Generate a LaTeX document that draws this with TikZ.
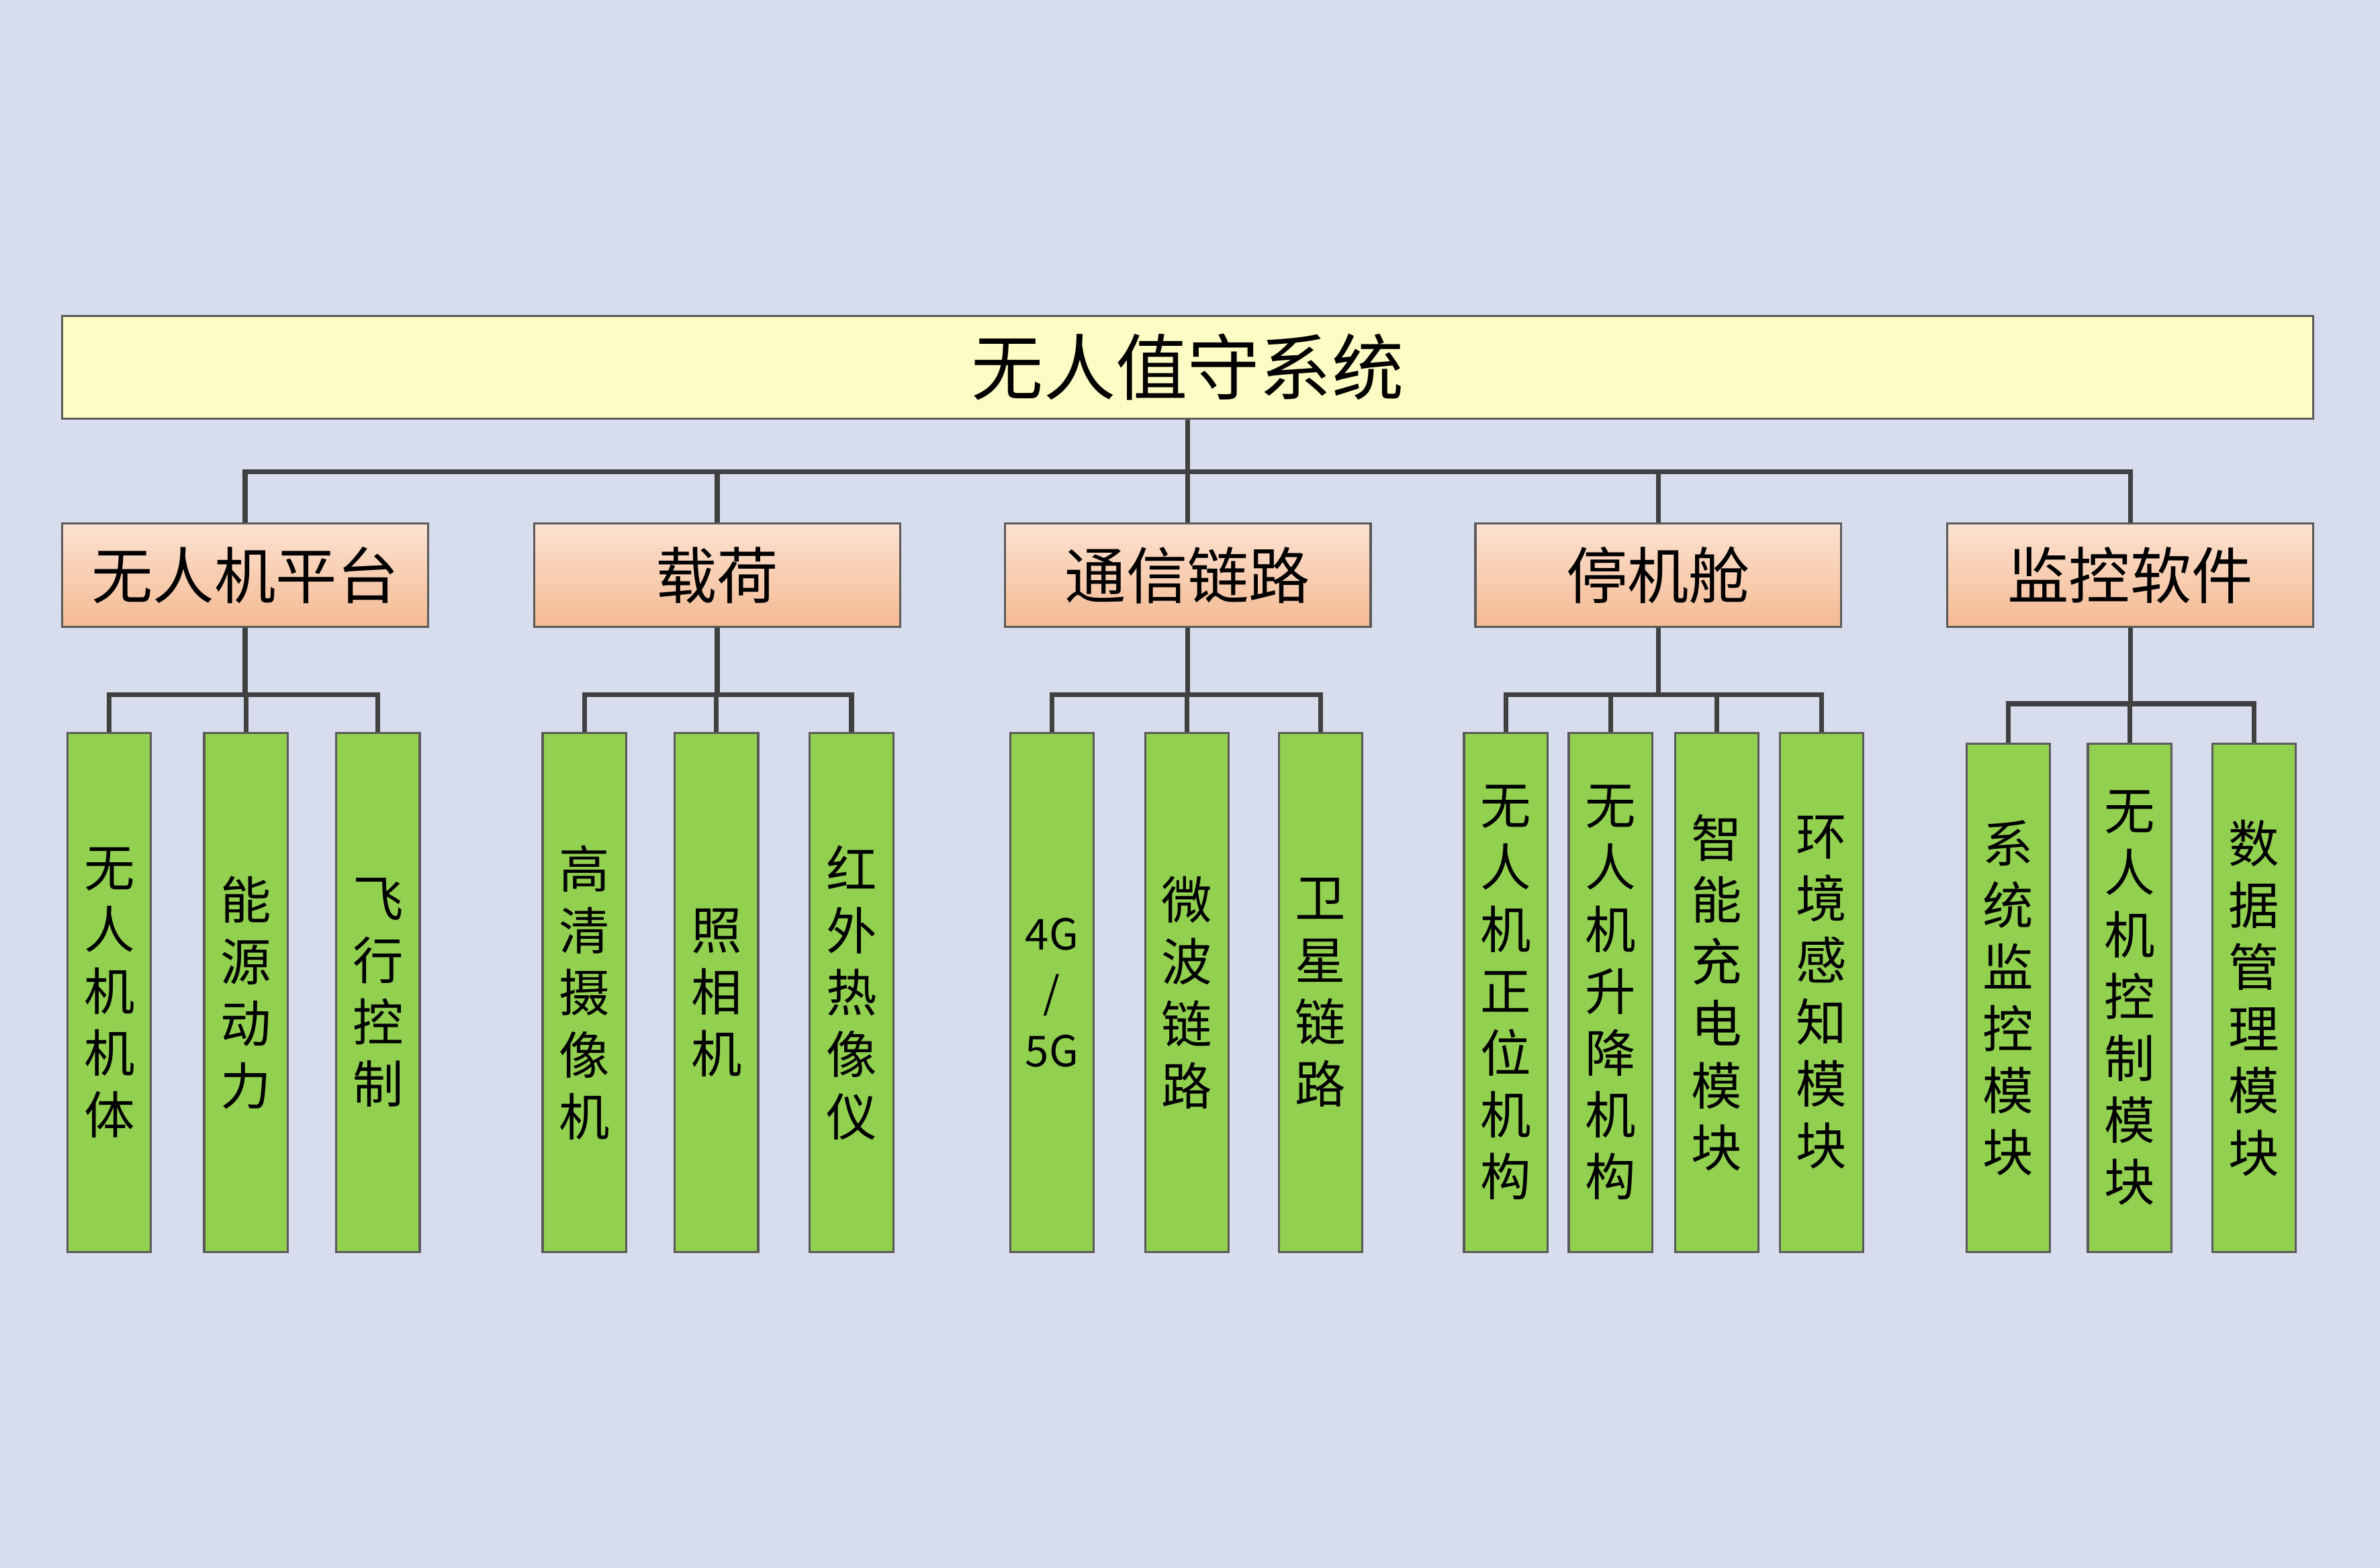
\documentclass[tikz,border=0pt]{standalone}
\usepackage{fontspec}
\setmainfont{Noto Sans CJK SC}
\definecolor{bg}{RGB}{216,221,238}
\definecolor{topfill}{RGB}{252,252,196}
\definecolor{leaf}{RGB}{146,208,80}
\definecolor{peachtop}{RGB}{252,226,210}
\definecolor{peachbot}{RGB}{244,186,146}
\definecolor{edge}{RGB}{90,90,90}
\tikzset{
  topbox/.style={draw=edge, fill=topfill, inner sep=1pt, minimum width=14.83cm, minimum height=0.68cm, font=\fontsize{13.5}{16}\selectfont},
  midbox/.style={draw=edge, top color=peachtop, bottom color=peachbot, inner sep=1pt, minimum width=2.41cm, minimum height=0.68cm, font=\fontsize{11.5}{14}\selectfont},
  leafbox/.style={draw=edge, fill=leaf, inner sep=1pt, minimum width=0.55cm, minimum height=3.42cm, align=center, font=\fontsize{9.5}{11.6}\selectfont},
  link/.style={draw=black!75, line width=0.9pt}
}
\begin{document}
\begin{tikzpicture}
\fill[bg] (0,0) rectangle (15.68,10.33);
\useasboundingbox (0,0) rectangle (15.68,10.33);

% root
\node[topbox] (root) at (7.825,7.91) {无人值守系统};

% second level
\node[midbox] (uav) at (1.615,6.54) {无人机平台};
\node[midbox] (load) at (4.725,6.54) {载荷};
\node[midbox] (comm) at (7.825,6.54) {通信链路};
\node[midbox] (hang) at (10.925,6.54) {停机舱};
\node[midbox] (soft) at (14.035,6.54) {监控软件};

\coordinate (top) at (7.825,7.22);
\draw[link] (root.south) -- (top);
\draw[link] (uav.north) |- (top) -| (soft.north);
\foreach \m in {load,comm,hang}
  \draw[link] (\m.north) -- (\m.north |- top);

% leaves
\node[leafbox] (a1) at (0.72,3.79) {无\\人\\机\\机\\体};
\node[leafbox] (a2) at (1.62,3.79) {能\\源\\动\\力};
\node[leafbox] (a3) at (2.49,3.79) {飞\\行\\控\\制};
\node[leafbox] (b1) at (3.85,3.79) {高\\清\\摄\\像\\机};
\node[leafbox] (b2) at (4.72,3.79) {照\\相\\机};
\node[leafbox] (b3) at (5.61,3.79) {红\\外\\热\\像\\仪};
\node[leafbox, font=\fontsize{8}{11}\selectfont] (c1) at (6.93,3.79) {4G\\/\\5G};
\node[leafbox] (c2) at (7.82,3.79) {微\\波\\链\\路};
\node[leafbox] (c3) at (8.70,3.79) {卫\\星\\链\\路};
\node[leafbox] (d1) at (9.92,3.79) {无\\人\\机\\正\\位\\机\\构};
\node[leafbox] (d2) at (10.61,3.79) {无\\人\\机\\升\\降\\机\\构};
\node[leafbox] (d3) at (11.31,3.79) {智\\能\\充\\电\\模\\块};
\node[leafbox] (d4) at (12.00,3.79) {环\\境\\感\\知\\模\\块};
\node[leafbox, minimum height=3.35cm] (e1) at (13.23,3.755) {系\\统\\监\\控\\模\\块};
\node[leafbox, minimum height=3.35cm] (e2) at (14.03,3.755) {无\\人\\机\\控\\制\\模\\块};
\node[leafbox, minimum height=3.35cm] (e3) at (14.85,3.755) {数\\据\\管\\理\\模\\块};

% branches
\draw[link] (uav.south) -- ++(0,-0.44) coordinate (ua);
\draw[link] (a1.north) |- (ua) -| (a3.north);
\draw[link] (a2.north) -- (a2.north |- ua);
\draw[link] (load.south) -- ++(0,-0.44) coordinate (lo);
\draw[link] (b1.north) |- (lo) -| (b3.north);
\draw[link] (b2.north) -- (b2.north |- lo);
\draw[link] (comm.south) -- ++(0,-0.44) coordinate (co);
\draw[link] (c1.north) |- (co) -| (c3.north);
\draw[link] (c2.north) -- (c2.north |- co);
\draw[link] (hang.south) -- ++(0,-0.44) coordinate (ha);
\draw[link] (d1.north) |- (ha) -| (d4.north);
\draw[link] (d2.north) -- (d2.north |- ha);
\draw[link] (d3.north) -- (d3.north |- ha);
\draw[link] (soft.south) -- ++(0,-0.5) coordinate (so);
\draw[link] (e1.north) |- (so) -| (e3.north);
\draw[link] (e2.north) -- (e2.north |- so);
\end{tikzpicture}
\end{document}
